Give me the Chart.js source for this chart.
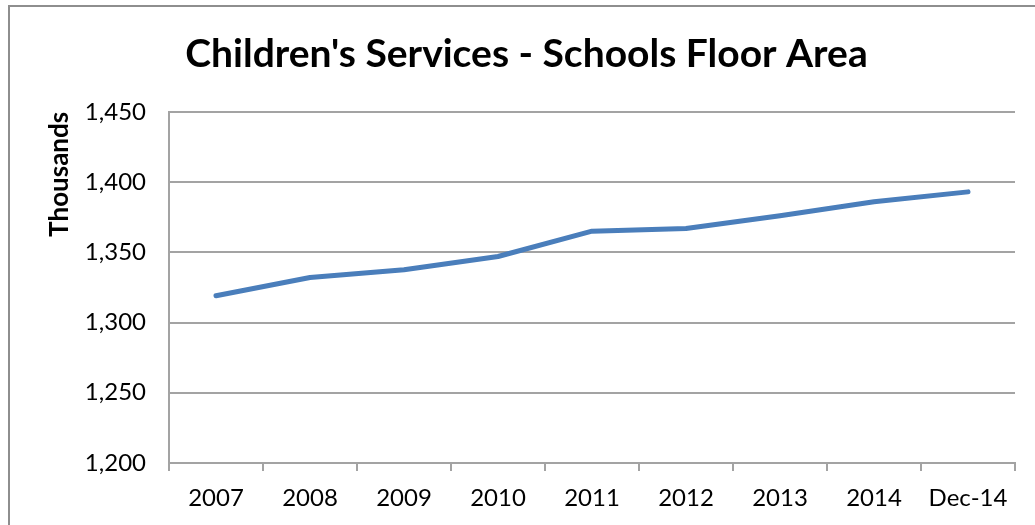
<!DOCTYPE html>
<html>
<head>
<meta charset="utf-8">
<script src="https://cdn.jsdelivr.net/npm/chart.js@4/dist/chart.umd.min.js"></script>
<style>
  html, body { margin: 0; padding: 0; background: #fff; }
  #wrap { position: relative; width: 1035px; height: 525px; overflow: hidden; }
  #frame { position: absolute; left: 8px; top: 5px; width: 1100px; height: 600px;
           border-left: 2px solid #8e8e8e; border-top: 2px solid #8e8e8e; pointer-events: none; }
</style>
</head>
<body>
<div id="wrap">
  <canvas id="c" width="1035" height="525"></canvas>
  <div id="frame"></div>
</div>
<script>
// 학교 연면적 추이 (천 ㎡)
const years  = ['2007', '2008', '2009', '2010', '2011', '2012', '2013', '2014', 'Dec-14'];
const area   = [1319, 1332, 1337.5, 1347, 1365, 1367, 1376, 1386, 1393];
const yTicks = [1200, 1250, 1300, 1350, 1400, 1450];

const FONT = 'Lato, "Open Sans", sans-serif';
const GRID = '#a3a3a3';

new Chart(document.getElementById('c'), {
  type: 'line',
  data: {
    labels: years,
    datasets: [{
      data: area,
      borderColor: '#4a7ebb',
      borderWidth: 5,
      borderCapStyle: 'round',
      borderJoinStyle: 'round',
      pointRadius: 0,
      tension: 0,
      fill: false,
    }],
  },
  options: {
    responsive: false, animation: false,
    // 좌우 여백 차이로 제목 중심을 원본 위치에 맞춤
    layout: { padding: { left: 38, right: 20, top: 0, bottom: 0 } },
    plugins: {
      legend: { display: false },
      tooltip: { enabled: false },
      title: {
        display: true,
        text: "Children's Services - Schools Floor Area",
        color: '#000',
        font: { family: FONT, size: 39, weight: 'bold' },
        padding: { top: 31, bottom: 34 },
      },
    },
    scales: {
      x: {
        offset: true,
        grid: { offset: true, drawOnChartArea: false, drawTicks: true, tickLength: 8, color: GRID, lineWidth: 2 },
        border: { color: GRID, width: 2 },
        ticks: { color: '#000', padding: 13, maxRotation: 0, font: { family: FONT, size: 24 } },
        afterFit: s => { s.height = 62; },
      },
      y: {
        min: yTicks[0], max: yTicks[yTicks.length - 1],
        afterBuildTicks: s => { s.ticks = yTicks.map(v => ({ value: v })); },
        grid: { color: GRID, lineWidth: 2, drawTicks: false },
        border: { color: GRID, width: 2 },
        ticks: { color: '#000', padding: 23, font: { family: FONT, size: 24 },
                 callback: v => v.toLocaleString('en-US') },
        title: { display: true, text: 'Thousands', align: 'end', color: '#000',
                 font: { family: FONT, size: 26, weight: 'bold' }, padding: { top: 6 } },
        afterFit: s => { s.width = 131; },
      },
    },
  },
});
</script>
</body>
</html>
